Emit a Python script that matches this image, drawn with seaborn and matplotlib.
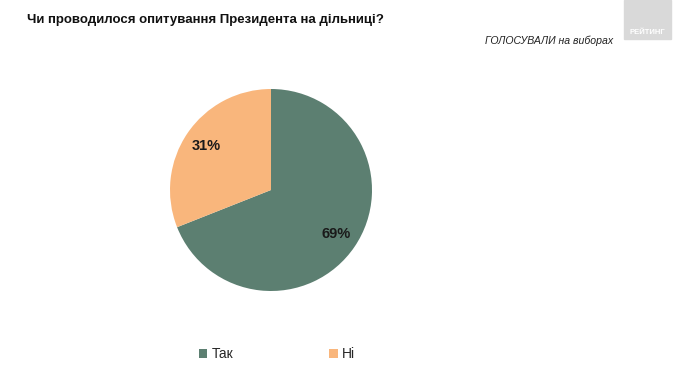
import matplotlib.pyplot as plt
import seaborn as sns

# data
answers = ["Так", "Ні"]
shares = [69, 31]
colors = sns.color_palette(["#5c7f71", "#f9b67c"])

title = "Чи проводилося опитування Президента на дільниці?"
subtitle = "ГОЛОСУВАЛИ на виборах"

sns.set_theme(style="white")
plt.rcParams['font.family'] = ['Liberation Sans Narrow', 'Liberation Sans', 'DejaVu Sans']

fig = plt.figure(figsize=(6.9, 3.74), dpi=100)
ax = fig.add_axes([170 / 690, 83 / 374, 202 / 690, 202 / 374])

wedges, texts, autotexts = ax.pie(
    shares, colors=colors, startangle=90, counterclock=False,
    autopct="%d%%", pctdistance=0.78,
    wedgeprops=dict(linewidth=0),
    textprops=dict(fontsize=10.5, fontweight="bold", color="#1a1a1a"),
)
ax.set_xlim(-1, 1)
ax.set_ylim(-1, 1)

fig.text(27 / 690, 1 - 20 / 374, title, fontsize=9.5, fontweight="bold",
         va="center", ha="left", color="#111111")
fig.text(613 / 690, 1 - 41 / 374, subtitle, fontsize=7.6, style="italic",
         va="center", ha="right", color="#222222")

# logo box in the corner
fig.patches.append(plt.Rectangle((624 / 690, 1 - 39 / 374), 47 / 690, 39 / 374,
                                 transform=fig.transFigure, color="#d9d9d9", zorder=0))
fig.text(647.5 / 690, 1 - 32 / 374, "РЕЙТИНГ", fontsize=5.5, fontweight="bold",
         color="white", ha="center", va="center")

fig.legend(wedges, answers, loc="center", bbox_to_anchor=(277 / 690, 1 - 354 / 374),
           ncol=2, frameon=False, fontsize=10, handlelength=0.6, handleheight=0.6,
           handletextpad=0.3, columnspacing=6.9)

fig.savefig("out.png", dpi=100)
